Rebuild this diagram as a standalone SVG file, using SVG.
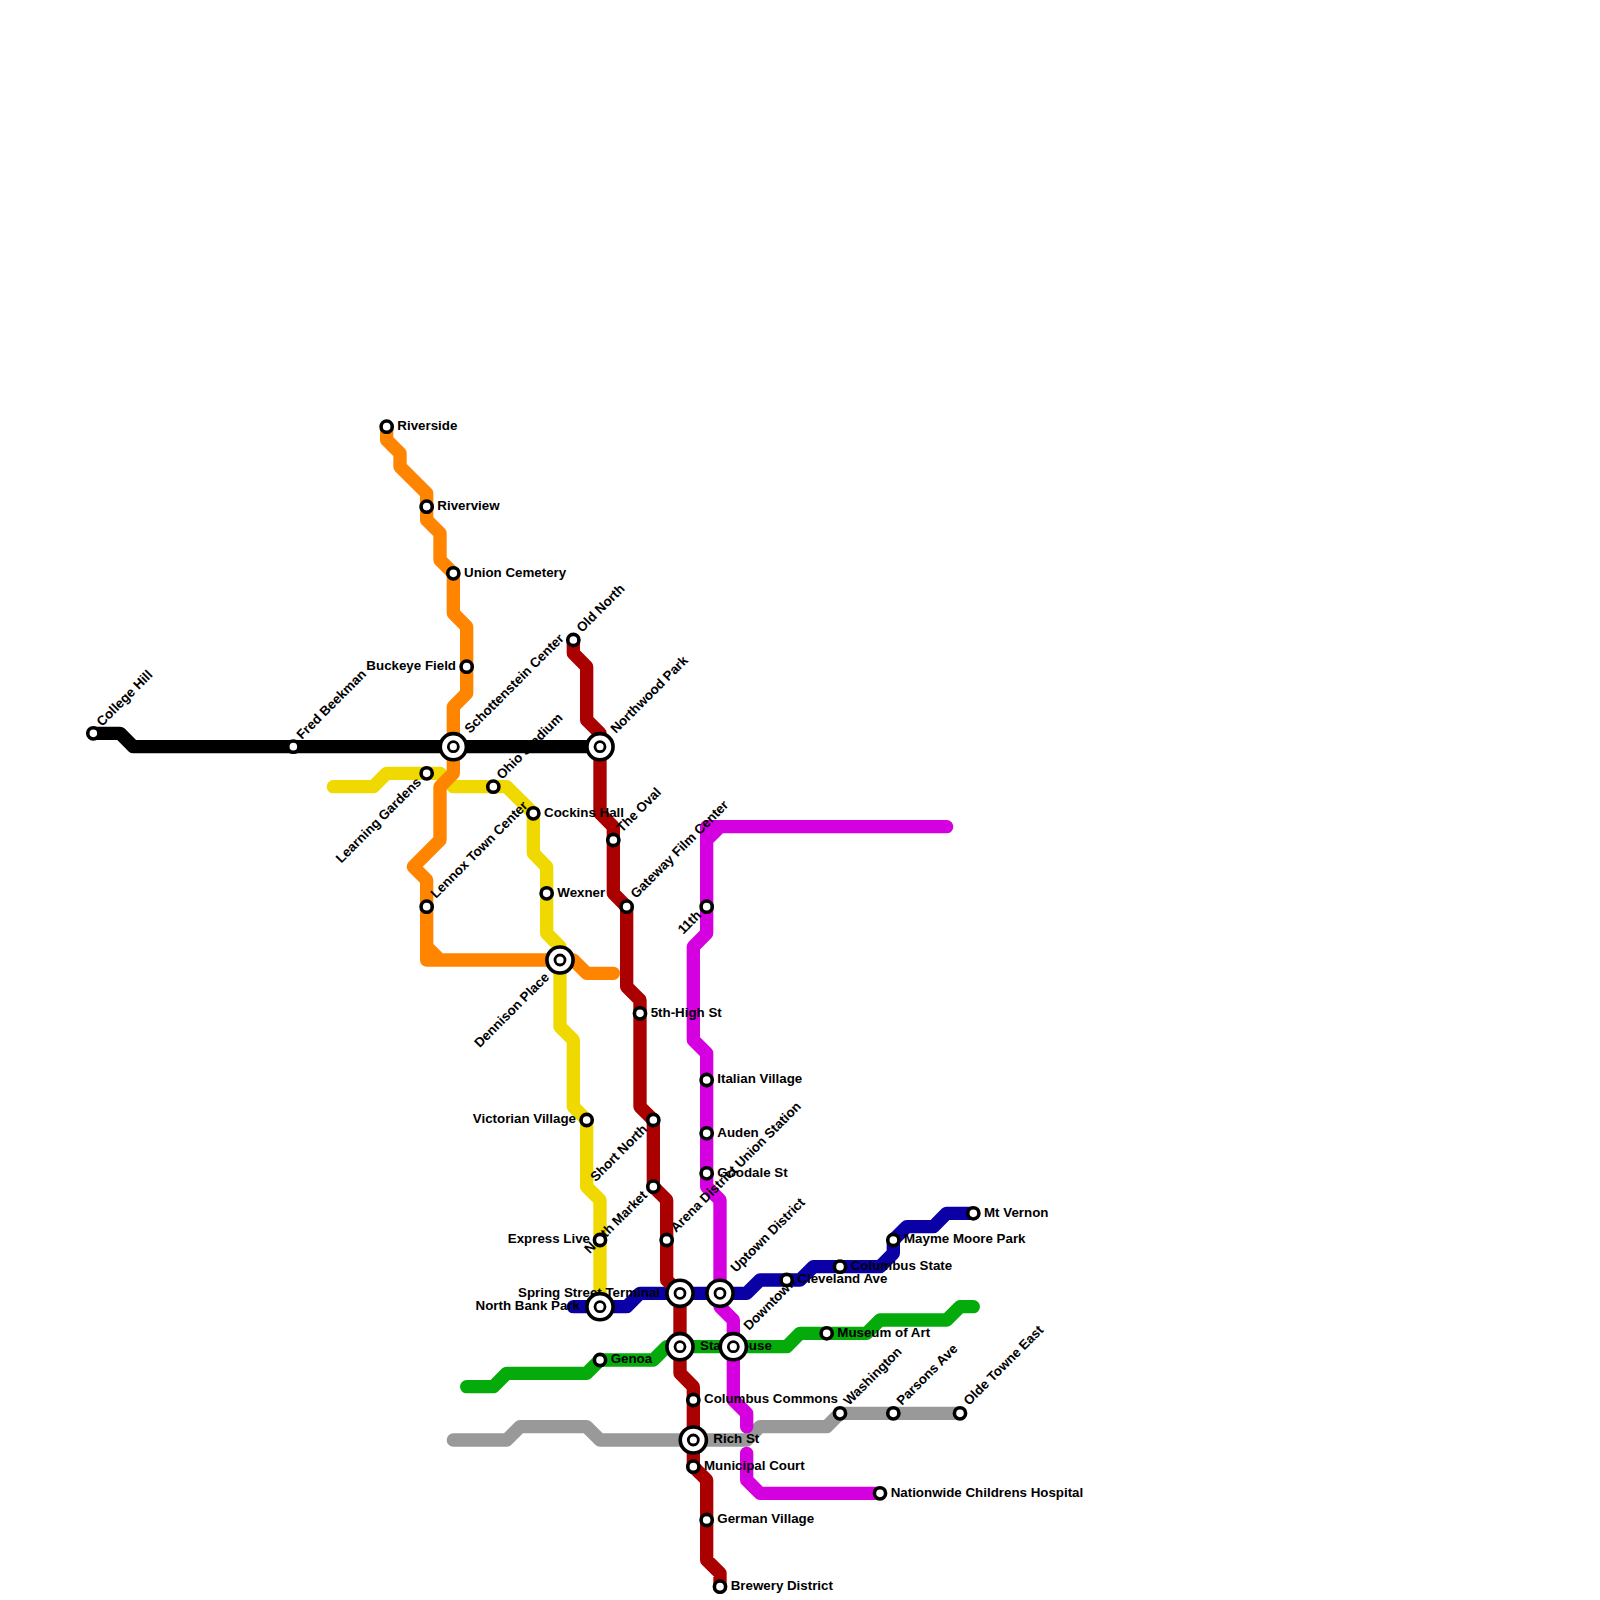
<svg xmlns="http://www.w3.org/2000/svg" width="1600" height="1600" viewBox="0 0 1600 1600">
<style>
.l{fill:none;stroke-width:1;stroke-linecap:round;stroke-linejoin:round}
.o{fill:#fff;stroke:#000;stroke-width:.27}
.i{fill:#fff;stroke:#000;stroke-width:.21}
text{font-family:"Liberation Sans",Arial,sans-serif;font-weight:700;font-size:13.33px;fill:#000}
.e{text-anchor:end}
</style>
<defs>
<g id="s"><circle class="o" r=".42"/></g>
<g id="b"><circle class="o" r=".98"/><circle class="i" r=".375"/></g>
</defs>
<g id="connectors" transform="scale(13.3333)">
<path class="l" stroke="#f0d900" d="M25 59H28L29 58H33L34 59H38L40 61V64L41 65V70L42 71V77L43 78V83L44 84V89L45 90V98"/>
<path class="l" stroke="#ff8500" d="M29 32V33L30 34V35L32 37V39L33 40V42L34 43V46L35 47V52L34 53V58L33 59V63L31 65L32 66V72H43L44 73H46M32 71L33 72"/>
<path class="l" stroke="#000" d="M7 55H9L10 56H45"/>
<path class="l" stroke="#999" d="M34 108H38L39 107H44L45 108H56L57 107H62L63 106H72"/>
<path class="l" stroke="#05aa0b" d="M35 104H37L38 103H44L45 102H49L50 101H59L60 100H65L66 99H71L72 98H73"/>
<path class="l" stroke="#0a00a5" d="M43 98H47L48 97H56L57 96H60L61 95H66L67 94V93L68 92H70L71 91H73"/>
<path class="l" stroke="#aa0000" d="M43 48V49L44 50V54L45 55V61L46 62V67L47 68V74L48 75V83L49 84V89L50 90V96L51 97V103L52 104V110L53 111V117L54 118V119"/>
<path class="l" stroke="#d500e0" d="M71 62H53V70L52 71V78L53 79V89L54 90V98L55 99V105L56 106V107M54 62L53 63M56 109V111L57 112H66"/>
</g>
<g id="labels">
<text x="397.3" y="430">Riverside</text>
<text x="437.3" y="510">Riverview</text>
<text x="464" y="576.7">Union Cemetery</text>
<text class="e" x="456" y="670">Buckeye Field</text>
<text x="544" y="816.7">Cockins Hall</text>
<text x="557.3" y="896.7">Wexner</text>
<text x="650.7" y="1016.7">5th-High St</text>
<text class="e" x="576" y="1123.3">Victorian Village</text>
<text x="717.3" y="1083.3">Italian Village</text>
<text x="717.3" y="1136.7">Auden</text>
<text x="717.3" y="1176.7">Goodale St</text>
<text class="e" x="590" y="1243.3">Express Live</text>
<text class="e" x="660" y="1296.7">Spring Street Terminal</text>
<text class="e" x="580" y="1310">North Bank Park</text>
<text x="610.7" y="1363.3">Genoa</text>
<text x="700" y="1350">Statehouse</text>
<text x="704" y="1403.3">Columbus Commons</text>
<text x="713.3" y="1443.3">Rich St</text>
<text x="704" y="1470">Municipal Court</text>
<text x="717.3" y="1523.3">German Village</text>
<text x="730.7" y="1590">Brewery District</text>
<text x="797.3" y="1283.3">Cleveland Ave</text>
<text x="850.7" y="1270">Columbus State</text>
<text x="904" y="1243.3">Mayme Moore Park</text>
<text x="984" y="1216.7">Mt Vernon</text>
<text x="837.3" y="1336.7">Museum of Art</text>
<text x="890.7" y="1496.7">Nationwide Childrens Hospital</text>
<text transform="translate(102,727) rotate(-45)">College Hill</text>
<text transform="translate(302,740) rotate(-45)">Fred Beekman</text>
<text transform="translate(470,734) rotate(-45)">Schottenstein Center</text>
<text transform="translate(502,780) rotate(-45)">Ohio Stadium</text>
<text transform="translate(582,633) rotate(-45)">Old North</text>
<text transform="translate(616,734) rotate(-45)">Northwood Park</text>
<text transform="translate(622,833) rotate(-45)">The Oval</text>
<text transform="translate(636,899) rotate(-45)">Gateway Film Center</text>
<text transform="translate(436,899) rotate(-45)">Lennox Town Center</text>
<text transform="translate(676,1233) rotate(-45)">Arena District Union Station</text>
<text transform="translate(736,1273) rotate(-45)">Uptown District</text>
<text transform="translate(749,1331) rotate(-45)">Downtown</text>
<text transform="translate(849,1406) rotate(-45)">Washington</text>
<text transform="translate(902,1406) rotate(-45)">Parsons Ave</text>
<text transform="translate(969,1406) rotate(-45)">Olde Towne East</text>
<text class="e" transform="translate(422,783) rotate(-45)">Learning Gardens</text>
<text class="e" transform="translate(550,978) rotate(-45)">Dennison Place</text>
<text class="e" transform="translate(702,916) rotate(-45)">11th</text>
<text class="e" transform="translate(648,1130) rotate(-45)">Short North</text>
<text class="e" transform="translate(648,1196) rotate(-45)">North Market</text>
</g>
<g id="stations" transform="scale(13.3333)">
<use id="college-hill" href="#s" x="7" y="55"/>
<use id="fred-beekman" href="#s" x="22" y="56"/>
<use id="riverside" href="#s" x="29" y="32"/>
<use id="riverview" href="#s" x="32" y="38"/>
<use id="union-cemetery" href="#s" x="34" y="43"/>
<use id="buckeye-field" href="#s" x="35" y="50"/>
<use id="schottenstein" href="#b" x="34" y="56"/>
<use id="northwood-park" href="#b" x="45" y="56"/>
<use id="old-north" href="#s" x="43" y="48"/>
<use id="learning-gardens" href="#s" x="32" y="58"/>
<use id="ohio-stadium" href="#s" x="37" y="59"/>
<use id="cockins-hall" href="#s" x="40" y="61"/>
<use id="the-oval" href="#s" x="46" y="63"/>
<use id="wexner" href="#s" x="41" y="67"/>
<use id="lennox" href="#s" x="32" y="68"/>
<use id="gateway" href="#s" x="47" y="68"/>
<use id="eleventh" href="#s" x="53" y="68"/>
<use id="dennison" href="#b" x="42" y="72"/>
<use id="fifth-high" href="#s" x="48" y="76"/>
<use id="italian-village" href="#s" x="53" y="81"/>
<use id="victorian-village" href="#s" x="44" y="84"/>
<use id="short-north" href="#s" x="49" y="84"/>
<use id="auden" href="#s" x="53" y="85"/>
<use id="goodale" href="#s" x="53" y="88"/>
<use id="north-market" href="#s" x="49" y="89"/>
<use id="mt-vernon" href="#s" x="73" y="91"/>
<use id="express-live" href="#s" x="45" y="93"/>
<use id="arena-district" href="#s" x="50" y="93"/>
<use id="mayme-moore" href="#s" x="67" y="93"/>
<use id="columbus-state" href="#s" x="63" y="95"/>
<use id="cleveland-ave" href="#s" x="59" y="96"/>
<use id="spring-street" href="#b" x="51" y="97"/>
<use id="uptown" href="#b" x="54" y="97"/>
<use id="north-bank" href="#b" x="45" y="98"/>
<use id="museum-of-art" href="#s" x="62" y="100"/>
<use id="statehouse" href="#b" x="51" y="101"/>
<use id="downtown" href="#b" x="55" y="101"/>
<use id="genoa" href="#s" x="45" y="102"/>
<use id="columbus-commons" href="#s" x="52" y="105"/>
<use id="washington" href="#s" x="63" y="106"/>
<use id="parsons" href="#s" x="67" y="106"/>
<use id="olde-towne" href="#s" x="72" y="106"/>
<use id="rich-st" href="#b" x="52" y="108"/>
<use id="municipal-court" href="#s" x="52" y="110"/>
<use id="nationwide" href="#s" x="66" y="112"/>
<use id="german-village" href="#s" x="53" y="114"/>
<use id="brewery" href="#s" x="54" y="119"/>
</g>
</svg>
